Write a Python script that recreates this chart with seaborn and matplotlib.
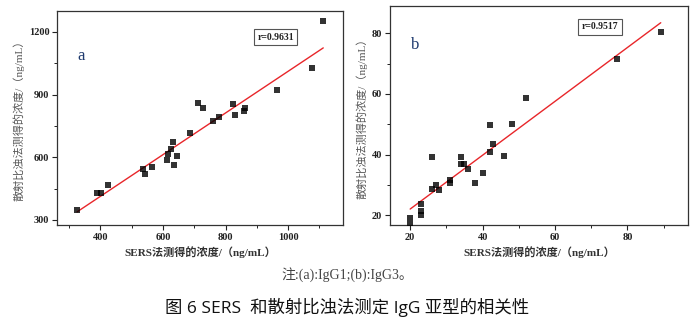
import numpy as np
import pandas as pd
import matplotlib
matplotlib.use("Agg")
import matplotlib.pyplot as plt
import seaborn as sns

# Panel a: IgG1
a_sers = [326, 391, 402, 426, 537, 544, 566, 614, 616, 626, 633, 634, 644, 686,
          712, 727, 760, 778, 824, 831, 858, 862, 965, 1077, 1112]
a_neph = [346, 427, 431, 466, 544, 520, 552, 587, 615, 639, 671, 564, 606, 717,
          858, 837, 773, 791, 854, 800, 819, 835, 924, 1025, 1251]
a_r = "r=0.9631"

# Panel b: IgG3
b_sers = [20, 20, 23, 23, 23, 26, 26, 27, 28, 31, 31, 34, 34, 34.9, 36, 38, 40,
          42, 42, 43, 46, 48.1, 52, 77.1, 89.2]
b_neph = [19.1, 17.0, 23.6, 21.5, 20.0, 39.2, 28.8, 29.9, 28.5, 31.6, 30.5, 39.3,
          37.0, 36.8, 35.4, 30.8, 34.1, 40.7, 49.7, 43.4, 39.6, 50.0, 58.5, 71.5, 80.3]
b_r = "r=0.9517"

a_xticks = [400, 600, 800, 1000]
a_yticks = [300, 600, 900, 1200]
b_xticks = [20, 40, 60, 80]
b_yticks = [20, 40, 60, 80]

xlabel = "SERS法测得的浓度/（ng/mL）"
ylabel = "散射比浊法测得的浓度/（ng/mL）"
note = "注:(a):IgG1;(b):IgG3。"
caption = "图 6 SERS  和散射比浊法测定 IgG 亚型的相关性"

sns.set_style("ticks")
plt.rcParams['font.family'] = ['Liberation Serif', 'Noto Sans CJK SC', 'DejaVu Sans']

fig = plt.figure(figsize=(6.95, 3.28), dpi=100)
axA = fig.add_axes([0.082, 0.314, 0.4115, 0.652])
axB = fig.add_axes([0.561, 0.314, 0.4288, 0.668])

dfa = pd.DataFrame({"x": a_sers, "y": a_neph})
dfb = pd.DataFrame({"x": b_sers, "y": b_neph})

for ax, df, letter, rtxt, xt, yt, xl, yl, minx, miny, lpos, rpos in [
    (axA, dfa, "a", a_r, a_xticks, a_yticks, (262, 1175), (276, 1299), 100, 150,
     (0.07, 0.79), (0.765, 0.879)),
    (axB, dfb, "b", b_r, b_xticks, b_yticks, (14.4, 96.7), (16.8, 89), 10, 10,
     (0.07, 0.82), (0.705, 0.904)),
]:
    sns.regplot(data=df, x="x", y="y", ax=ax, ci=None, marker="s", color="black",
                scatter_kws={"s": 20, "linewidths": 0, "zorder": 3},
                line_kws={"color": "#e8262a", "lw": 1.0, "zorder": 2})
    ax.set_xlim(*xl)
    ax.set_ylim(*yl)
    ax.set_xticks(xt)
    ax.set_yticks(yt)
    ax.xaxis.set_minor_locator(matplotlib.ticker.MultipleLocator(minx))
    ax.yaxis.set_minor_locator(matplotlib.ticker.MultipleLocator(miny))
    ax.tick_params(which="major", direction="out", length=3.5, width=0.8,
                   labelsize=7.5, colors="#222222", pad=2)
    ax.tick_params(which="minor", direction="out", length=2, width=0.7, colors="#222222")
    for lab in ax.get_xticklabels() + ax.get_yticklabels():
        lab.set_fontweight("bold")
    for s in ax.spines.values():
        s.set_visible(True)
        s.set_linewidth(0.9)
        s.set_color("#333333")
    ax.set_xlabel(xlabel, fontsize=8, fontweight="bold", color="#333333", labelpad=3)
    ax.set_ylabel(ylabel, fontsize=8, color="#555555", labelpad=3)
    ax.text(lpos[0], lpos[1], letter, transform=ax.transAxes, fontsize=12,
            color="#1f3a6e", ha="left", va="center")
    ax.text(rpos[0], rpos[1], rtxt, transform=ax.transAxes, fontsize=7,
            fontweight="bold", ha="center", va="center", color="#222222",
            bbox=dict(boxstyle="square,pad=0.35", fc="white", ec="#555555", lw=0.8))

fig.text(0.499, 0.162, note, fontsize=10, ha="center", va="center", color="#444444")
fig.text(0.499, 0.062, caption, fontsize=12.5, ha="center", va="center",
         color="#111111", family=['Open Sans', 'Noto Sans CJK SC', 'DejaVu Sans'])

fig.savefig("out.png", dpi=100)
